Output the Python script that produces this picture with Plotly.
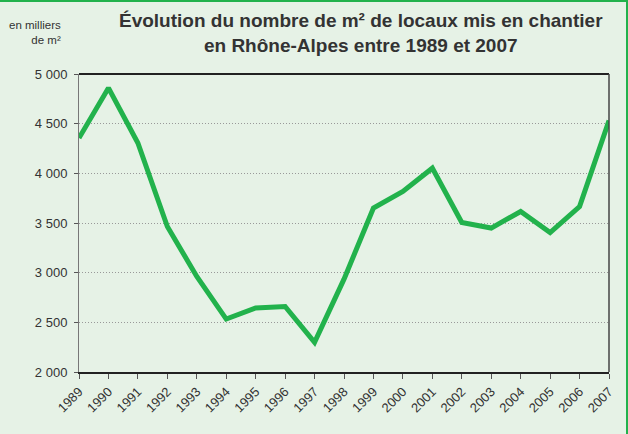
import plotly.graph_objects as go

years = [str(y) for y in range(1989, 2008)]
values = [4355, 4860, 4305, 3465, 2962, 2533, 2644, 2660, 2298, 2935,
          3650, 3817, 4052, 3505, 3449, 3616, 3404, 3666, 4531]
ytick_vals = [2000, 2500, 3000, 3500, 4000, 4500, 5000]
ytick_text = ["2 000", "2 500", "3 000", "3 500", "4 000", "4 500", "5 000"]

FONT = "Liberation Sans, Arial"
BG = "#E6F2E6"

fig = go.Figure()
fig.add_trace(go.Scatter(
    x=list(range(len(years))), y=values, mode="lines",
    line=dict(color="#22B24C", width=5), hoverinfo="skip", cliponaxis=False,
))

W, H = 628, 434
ml, mr, mt, mb = 79, 19, 74, 62
pw, ph = W - ml - mr, H - mt - mb

def px(x):
    return (x - ml) / pw

def py(y):
    return (H - mb - y) / ph

fig.update_layout(
    width=W, height=H,
    margin=dict(l=ml, r=mr, t=mt, b=mb),
    paper_bgcolor=BG, plot_bgcolor=BG,
    showlegend=False,
    font=dict(family=FONT, color="#333333"),
    xaxis=dict(
        range=[0, len(years) - 1], automargin=False,
        tickvals=list(range(len(years))), ticktext=years,
        tickangle=-45, tickfont=dict(size=13, color="#333333"),
        ticks="outside", ticklen=5, tickcolor="#555555",
        showgrid=False, zeroline=False,
        showline=True, linecolor="#222222", linewidth=2,
        mirror=False,
    ),
    yaxis=dict(
        range=[2000, 5000], automargin=False,
        tickvals=ytick_vals, ticktext=ytick_text,
        tickfont=dict(size=13, color="#333333"),
        ticks="outside", ticklen=4, tickcolor="#555555",
        ticklabelstandoff=4,
        showgrid=True, gridcolor="#999999", griddash="1px,2px", gridwidth=1,
        zeroline=False,
        showline=True, linecolor="#777777", linewidth=1,
    ),
    shapes=[
        dict(type="line", xref="paper", yref="paper", x0=0, x1=1, y0=1, y1=1,
             line=dict(color="#222222", width=2)),
        dict(type="line", xref="paper", yref="paper", x0=1, x1=1, y0=0, y1=1,
             line=dict(color="#444444", width=1.5)),
        dict(type="line", xref="paper", yref="paper", x0=px(0), x1=px(W), y0=py(1), y1=py(1),
             line=dict(color="#22B24C", width=2)),
        dict(type="line", xref="paper", yref="paper", x0=px(W - 1), x1=px(W - 1), y0=py(0), y1=py(H),
             line=dict(color="#22B24C", width=2)),
    ],
    annotations=[
        dict(text="<b>Évolution du nombre de m² de locaux mis en chantier<br>en Rhône-Alpes entre 1989 et 2007</b>",
             xref="paper", yref="paper", x=px(361), y=py(33), xanchor="center", yanchor="middle",
             showarrow=False, font=dict(size=19, color="#333333", family=FONT), align="center"),
        dict(text="en milliers<br>de m²",
             xref="paper", yref="paper", x=px(63), y=py(32), xanchor="right", yanchor="middle",
             showarrow=False, font=dict(size=11.5, color="#333333", family=FONT), align="right"),
    ],
)

fig.write_html("out.html", config={"displayModeBar": False},
               post_script="document.body.style.margin='0';document.body.style.overflow='hidden';")
